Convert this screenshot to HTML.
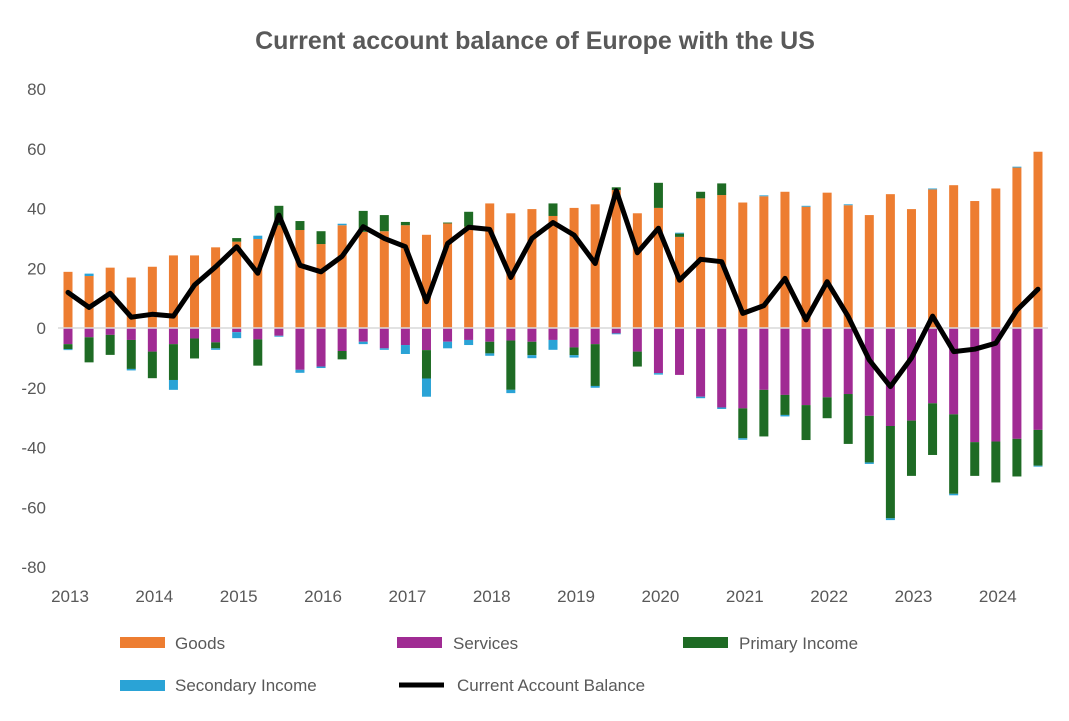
<!DOCTYPE html>
<html><head><meta charset="utf-8"><style>
body{margin:0;background:#fff;font-family:"Liberation Sans",sans-serif}
svg text{font-family:"Liberation Sans",sans-serif}
</style></head><body>
<svg id="chart" width="1069" height="716" viewBox="0 0 1069 716" xmlns="http://www.w3.org/2000/svg">
<rect width="1069" height="716" fill="#fff"/>
<text x="535" y="49" text-anchor="middle" font-size="25" font-weight="bold" fill="#595959">Current account balance of Europe with the US</text>
<g id="yaxis"></g>
<g id="xaxis"></g>
<g id="bars"></g>
<line x1="58" x2="1048" y1="328" y2="328" stroke="#d9d9d9" stroke-width="1.5"/>
<g id="line"></g>
<g font-size="17" fill="#595959">
<rect x="120" y="637" width="45" height="11" fill="#ED7D31"/>
<text x="175" y="649">Goods</text>
<rect x="397" y="637" width="45" height="11" fill="#A02B93"/>
<text x="453" y="649">Services</text>
<rect x="683" y="637" width="45" height="11" fill="#1E6B24"/>
<text x="739" y="649">Primary Income</text>
<rect x="120" y="680" width="45" height="11" fill="#2AA3D6"/>
<text x="175" y="691">Secondary Income</text>
<line x1="399" x2="444" y1="685" y2="685" stroke="#000" stroke-width="5"/>
<text x="457" y="691">Current Account Balance</text>
</g>
</svg>
<script>
const years=["2013","2014","2015","2016","2017","2018","2019","2020","2021","2022","2023","2024"];
const yTicks=[80,60,40,20,0,-20,-40,-60,-80];
const goods=[18.8,17.4,20.2,16.9,20.5,24.3,24.3,27,28.9,29.8,34.4,32.8,28.1,34.4,32.2,32.4,34.4,31.2,35,33.9,41.7,38.4,39.8,37.5,40.2,41.4,46.2,38.4,40.2,30.5,43.4,44.5,42,44.1,45.6,40.6,45.3,41.1,37.8,44.8,39.8,46.4,47.8,42.5,46.7,53.7,59];
const services=[-5.4,-3.1,-2.3,-4,-7.9,-5.4,-3.5,-4.8,-1.4,-3.8,-2.6,-14,-12.9,-7.7,-4.6,-6.8,-5.7,-7.4,-4.6,-4,-4.6,-4.2,-4.6,-4,-6.5,-5.4,-1.8,-7.9,-15.1,-15.7,-23,-26.6,-26.9,-20.7,-22.4,-25.8,-23.2,-22.1,-29.4,-32.8,-31,-25.2,-28.9,-38.2,-38,-37.1,-34.1];
const primary=[-1.7,-8.4,-6.7,-9.7,-8.9,-12,-6.7,-2,1.2,-8.8,6.5,3,4.3,-2.8,7,5.4,1.1,-9.5,0.3,5,-3.9,-16.5,-4.5,4.2,-2.6,-14,0.9,-5,8.4,1.1,2.2,3.9,-10,-15.6,-6.7,-11.7,-7,-16.7,-15.6,-30.9,-18.5,-17.3,-26.6,-11.3,-13.7,-12.6,-12];
const secondary=[-0.3,0.8,0,-0.5,0,-3.3,0,-0.5,-2,1.1,-0.3,-1,-0.5,0.5,-0.8,-0.5,-3,-6.1,-2.2,-1.7,-0.8,-1.1,-1,-3.3,-0.8,-0.6,-0.3,0,-0.5,0.3,-0.5,-0.5,-0.5,0.3,-0.5,0.3,0,0.3,-0.5,-0.6,0,0.3,-0.5,0,0,0.3,-0.3];
const balance=[11.9,6.9,11.6,3.6,4.6,4,14.4,20.5,27.2,18.3,37.8,21,18.8,24,33.9,30,27.2,8.8,28.3,33.7,33,16.9,30,35.3,31.1,21.6,46,25.2,33.4,16,23,22.2,4.9,7.5,16.6,2.7,15.5,3.8,-10.7,-19.6,-10,4,-7.9,-7.1,-5.1,6,13];

const NS="http://www.w3.org/2000/svg";
const y0=328, unit=239/80;
const x0=68, step=(1038-68)/46, bw=9;
const Y=v=>y0-v*unit;
const X=i=>x0+i*step;
function mk(tag,attrs,parent){const e=document.createElementNS(NS,tag);for(const k in attrs)e.setAttribute(k,attrs[k]);parent.appendChild(e);return e;}

const ya=document.getElementById('yaxis');
yTicks.forEach(t=>{
  const e=mk('text',{x:46,y:Y(t)+6,'text-anchor':'end','font-size':17,fill:'#595959'},ya);
  
  
  e.textContent=String(t);
});
const xa=document.getElementById('xaxis');
years.forEach((yr,k)=>{
  const e=mk('text',{x:X(k*4)+2,y:602,'text-anchor':'middle','font-size':17,fill:'#595959'},xa);
  
  
  e.textContent=yr;
});

const bars=document.getElementById('bars');
const series=[[goods,'#ED7D31','goods'],[services,'#A02B93','services'],[primary,'#1E6B24','primary'],[secondary,'#2AA3D6','secondary']];
for(let i=0;i<goods.length;i++){
  let pos=0,neg=0;
  series.forEach(([arr,col,nm])=>{
    const v=arr[i];if(!v)return;
    let a,b;
    if(v>0){a=pos;b=pos+v;pos=b;}else{a=neg;b=neg+v;neg=b;}
    const top=Math.min(Y(a),Y(b)),h=Math.abs(Y(a)-Y(b));
    const r=mk('rect',{x:X(i)-bw/2,y:top,width:bw,height:h,fill:col},bars);
    
    
  });
}
const lg=document.getElementById('line');
const pts=balance.map((v,i)=>X(i).toFixed(1)+','+Y(v).toFixed(1)).join(' ');
const pl=mk('polyline',{points:pts,fill:'none',stroke:'#000','stroke-width':5,'stroke-linejoin':'round','stroke-linecap':'round'},lg);


</script>
</body></html>
